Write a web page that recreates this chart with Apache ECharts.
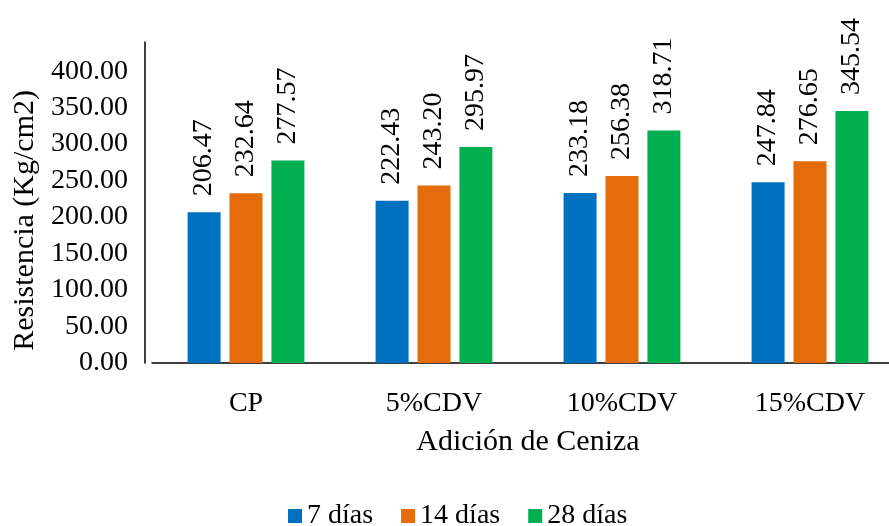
<!DOCTYPE html>
<html><head><meta charset="utf-8">
<script src="https://cdn.jsdelivr.net/npm/echarts@6/dist/echarts.min.js"></script>
<style>html,body{margin:0;padding:0;background:#fff}#c{width:889px;height:526px}</style>
</head><body><div id="c"></div>
<script>
const categories = ['CP', '5%CDV', '10%CDV', '15%CDV'];
const seriesNames = ['7 días', '14 días', '28 días'];
const d7 = [206.47, 222.43, 233.18, 247.84];
const d14 = [232.64, 243.20, 256.38, 276.65];
const d28 = [277.57, 295.97, 318.71, 345.54];
const colors = ['#0070C0', '#E46C0A', '#00B050'];
const font = 'Liberation Serif';

const chart = echarts.init(document.getElementById('c'));
function mk(name, data, color) {
  return {
    name, type: 'bar', data, barWidth: 33, barGap: '27%',
    itemStyle: { color },
    label: {
      show: true, position: 'top', rotate: 90, align: 'left', verticalAlign: 'middle',
      distance: 16, fontFamily: font, fontSize: 28, color: '#000',
      formatter: p => p.value.toFixed(2)
    }
  };
}
chart.setOption({
  animation: false,
  textStyle: { fontFamily: font },
  color: colors,
  grid: { left: 152, width: 752, top: 42, bottom: 163, outerBoundsMode: 'none', containLabel: false },
  legend: {
    bottom: -9, left: 283, itemWidth: 14, itemHeight: 14, itemGap: 28,
    icon: 'rect', textStyle: { fontFamily: font, fontSize: 28, color: '#000' },
    data: seriesNames
  },
  xAxis: {
    type: 'category', data: categories,
    axisLine: { lineStyle: { color: '#000', width: 1.5 } },
    axisTick: { show: false },
    axisLabel: { fontFamily: font, fontSize: 28, color: '#000', margin: 27 },
    name: 'Adición de Ceniza', nameLocation: 'middle', nameGap: 64,
    nameTextStyle: { fontFamily: font, fontSize: 30, color: '#000' }
  },
  yAxis: {
    type: 'value', min: 0, max: 440, interval: 50, offset: 7,
    axisLine: { show: true, lineStyle: { color: '#000', width: 1.5 } },
    axisTick: { show: false }, splitLine: { show: false },
    axisLabel: {
      fontFamily: font, fontSize: 28, color: '#000', margin: 17,
      showMaxLabel: false,
      formatter: v => v > 400 ? '' : v.toFixed(2)
    }
  },
  graphic: [{
    type: 'text', left: 10, top: 90, rotation: Math.PI / 2,
    style: { text: 'Resistencia (Kg/cm2)', fontFamily: font, fontSize: 30, fill: '#000' }
  }],
  series: [mk(seriesNames[0], d7, colors[0]), mk(seriesNames[1], d14, colors[1]), mk(seriesNames[2], d28, colors[2])]
});
</script></body></html>
